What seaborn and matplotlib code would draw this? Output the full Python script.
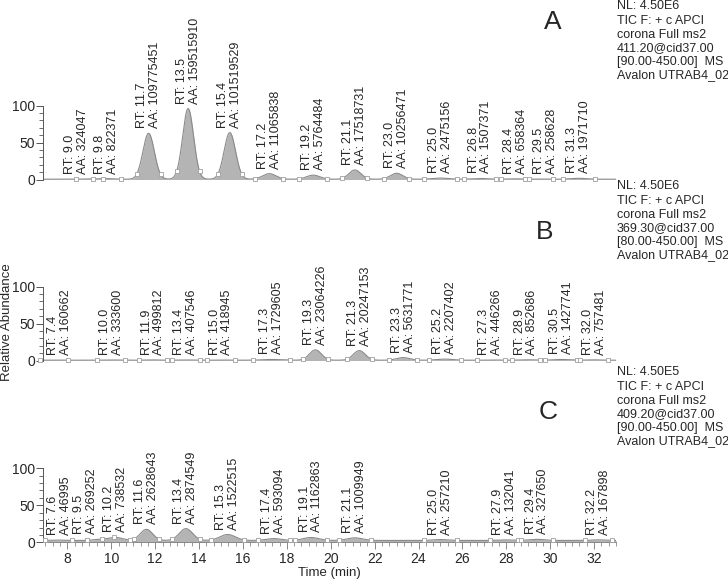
import numpy as np
import matplotlib
matplotlib.use("Agg")
import matplotlib.pyplot as plt
from matplotlib.ticker import MultipleLocator, AutoMinorLocator
import seaborn as sns

# --- donnees lues sur le chromatogramme ---
# panel A
rt_a = [9.0, 9.8, 11.7, 13.5, 15.4, 17.2, 19.2, 21.1, 23.0, 25.0, 26.8, 28.4, 29.5, 31.3]
aa_a = [324047, 822371, 109775451, 159515910, 101519529, 11065838, 5764484,
        17518731, 10256471, 2475156, 1507371, 658364, 258628, 1971710]
haut_a = [0.4, 0.8, 62, 95.5, 63, 7.5, 5.5, 12.5, 8, 1.5, 1.0, 0.5, 0.3, 1.2]
sigma_a = [0.3, 0.3, 0.26, 0.25, 0.26, 0.3, 0.3, 0.27, 0.28, 0.35, 0.35, 0.3, 0.3, 0.35]
base_a = 0.4

# panel B
rt_b = [7.4, 10.0, 11.9, 13.4, 15.0, 17.3, 19.3, 21.3, 23.3, 25.2, 27.3, 28.9, 30.5, 32.0]
aa_b = [160662, 333600, 499812, 407546, 418945, 1729605, 23064226, 20247153,
        5631771, 2207402, 446266, 852686, 1427741, 757481]
haut_b = [0.2, 0.3, 0.4, 0.3, 0.3, 1.0, 14, 13, 3.5, 1.5, 0.4, 0.6, 1.0, 0.5]
sigma_b = [0.3, 0.3, 0.3, 0.3, 0.3, 0.4, 0.27, 0.27, 0.3, 0.35, 0.3, 0.3, 0.35, 0.3]
base_b = 0.4

# panel C
rt_c = [7.6, 9.5, 10.2, 11.6, 13.4, 15.3, 17.4, 19.1, 21.1, 25.0, 27.9, 29.4, 32.2]
aa_c = [46995, 269252, 738532, 2628643, 2874549, 1522515, 593094, 1162863,
        1009949, 257210, 132041, 327650, 167898]
haut_c = [0.5, 1.5, 4, 15, 16, 8, 2.5, 4, 3.5, 1.2, 0.8, 1.5, 0.8]
sigma_c = [0.3, 0.3, 0.3, 0.28, 0.3, 0.35, 0.35, 0.35, 0.35, 0.35, 0.3, 0.35, 0.3]
base_c = 2.5

entete_a = ["NL: 4.50E6", "TIC F: + c APCI", "corona Full ms2", "411.20@cid37.00",
            "[90.00-450.00]  MS", "Avalon UTRAB4_02"]
entete_b = ["NL: 4.50E6", "TIC F: + c APCI", "corona Full ms2", "369.30@cid37.00",
            "[80.00-450.00]  MS", "Avalon UTRAB4_02"]
entete_c = ["NL: 4.50E5", "TIC F: + c APCI", "corona Full ms2", "409.20@cid37.00",
            "[90.00-450.00]  MS", "Avalon UTRAB4_02"]

sns.set_theme(style="ticks")
plt.rcParams["font.family"] = ["Liberation Sans", "DejaVu Sans"]

W, H = 728, 581
fig = plt.figure(figsize=(W / 100, H / 100), dpi=100)

xmin, xmax = 6.9, 33.0
temps = np.linspace(xmin, xmax, 2600)
gris_fill = "#b4b4b4"
gris_trait = "#8a8a8a"
axe_col = "#555555"


def place_labels(rts, aas, sep=1.37, gauche=7.65):
    # le plus petit pic se decale quand les etiquettes se touchent
    pos = list(rts)
    for i in range(1, len(pos)):
        if pos[i] - pos[i - 1] < sep:
            if aas[i] < aas[i - 1]:
                pos[i] = pos[i - 1] + sep
            else:
                pos[i - 1] = pos[i] - sep
    pos[0] = max(pos[0], gauche)
    return pos


def panel(bas_px, rts, aas, hauts, sigmas, base, entete, lettre, lettre_xy, nl_y, bas_axe):
    left = 43.3 / W
    width = (616 - 43.3) / W
    ax = fig.add_axes([left, 1 - bas_px / H, width, 74 / H])
    signal = np.full_like(temps, base)
    for r, h, s in zip(rts, hauts, sigmas):
        signal = signal + h * np.exp(-0.5 * ((temps - r) / s) ** 2)
    ax.fill_between(temps, 0, signal, color=gris_fill, lw=0)
    sns.lineplot(x=temps, y=signal, ax=ax, color=gris_trait, lw=0.8)

    # petits carres de debut / fin de pic
    bords = []
    for r, s in zip(rts, sigmas):
        bords += [r - 2.1 * s, r + 2.1 * s]
    bords = np.array(bords)
    ax.scatter(bords, np.interp(bords, temps, signal), marker="s", s=10,
               facecolor="white", edgecolor="#a0a0a0", lw=0.6, zorder=3, clip_on=False)

    for lx, r, a in zip(place_labels(rts, aas), rts, aas):
        ypic = np.interp(r, temps, signal)
        ax.annotate(f"RT: {r:.1f}\nAA: {a}", xy=(lx, ypic), xytext=(0, 3.6),
                    textcoords="offset points", rotation=90, ha="center", va="bottom",
                    fontsize=9, linespacing=1.1, multialignment="left",
                    annotation_clip=False)

    ax.set_xlim(xmin, xmax)
    ax.set_ylim(0, 100)
    ax.yaxis.set_major_locator(MultipleLocator(50))
    ax.yaxis.set_minor_locator(AutoMinorLocator(5))
    ax.tick_params(axis="y", which="major", length=5, width=0.7, color=axe_col,
                   labelsize=10, pad=1)
    ax.tick_params(axis="y", which="minor", length=3, width=0.6, color=axe_col)
    sns.despine(ax=ax, top=True, right=True, bottom=not bas_axe)
    ax.spines["left"].set_color(axe_col)
    ax.spines["left"].set_linewidth(0.7)
    if bas_axe:
        ax.spines["bottom"].set_color("#888888")
        ax.spines["bottom"].set_linewidth(0.7)
        ax.xaxis.set_major_locator(MultipleLocator(2))
        ax.xaxis.set_minor_locator(AutoMinorLocator(6))
        ax.tick_params(axis="x", which="major", length=5, width=0.7, color="#888888",
                       labelsize=10, pad=2)
        ax.tick_params(axis="x", which="minor", length=3, width=0.6, color="#888888")
    else:
        ax.set_xticks([])
    ax.set_facecolor("none")

    # bloc de texte a droite
    for i, ligne in enumerate(entete):
        y = nl_y if i == 0 else nl_y + 15 + (i - 1) * 13.5
        fig.text(617 / W, 1 - y / H, ligne, fontsize=9, va="center", ha="left")
    fig.text(lettre_xy[0] / W, 1 - lettre_xy[1] / H, lettre, fontsize=19,
             ha="center", va="center")
    return ax


panel(179.5, rt_a, aa_a, haut_a, sigma_a, base_a, entete_a, "A", (553, 22), 6, False)
panel(360.5, rt_b, aa_b, haut_b, sigma_b, base_b, entete_b, "B", (545, 232), 186, False)
panel(542.3, rt_c, aa_c, haut_c, sigma_c, base_c, entete_c, "C", (548, 412), 372, True)

fig.text(7.5 / W, 1 - 322 / H, "Relative Abundance", rotation=90, fontsize=9.5,
         ha="center", va="center")
fig.text(329 / W, 1 - 573 / H, "Time (min)", fontsize=9.5, ha="center", va="center")

plt.savefig("out.png", dpi=100)
